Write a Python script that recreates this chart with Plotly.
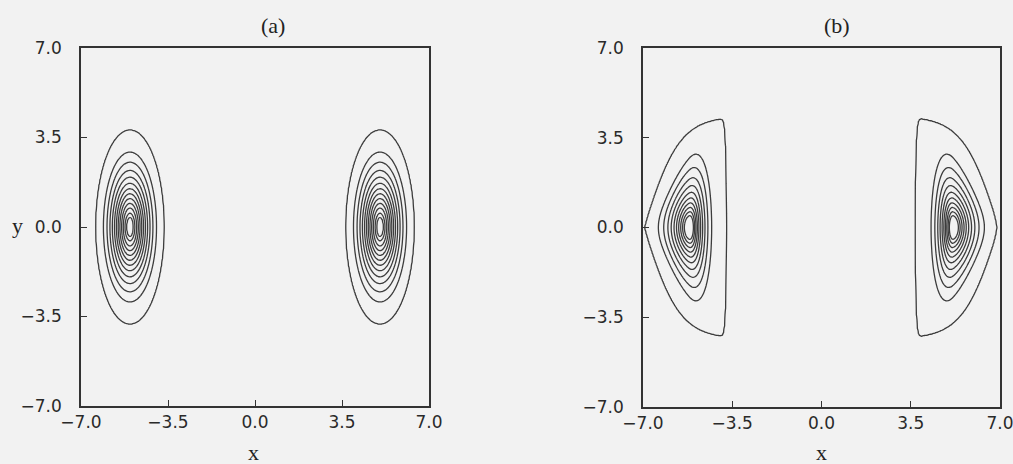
import numpy as np
import plotly.graph_objects as go

# ---------------- data ----------------
panel_titles = ["(a)", "(b)"]
tick_vals = [-7.0, -3.5, 0.0, 3.5, 7.0]
tick_text = ["\u22127.0", "\u22123.5", "0.0", "3.5", "7.0"]

# contour levels (relative height of the distribution)
contour_levels = [0.025, 0.112, 0.194, 0.287, 0.380, 0.475, 0.565,
                  0.650, 0.730, 0.805, 0.870, 0.930, 0.965]
a_level_count = 13   # contours drawn in panel (a)
b_level_count = 11   # contours drawn in panel (b)

# panel (a): two elliptic peaks
a_centers = [-5.03, 5.03]
a_sigma_x = [0.51, 0.51]
a_sigma_y = [1.40, 1.40]

# panel (b): two D-shaped peaks (u measured towards the origin)
b_centers = [-5.17, 5.16]
b_width_outer = [0.74, 0.74]
b_width_inner = [0.52, 0.52]
b_height_base = [1.64, 1.64]
b_height_slope = [0.65, 0.65]
b_profile_power = [1.55, 1.55]
# faint outer skirt of panel (b)
b_tail_amp = [0.05, 0.05]
b_tail_height = [3.7, 3.7]
b_tail_offset = [1.8, 1.8]
b_tail_rate = [1.4, 1.4]
b_tail_start = [-1.78, -1.72]
b_tail_end = [1.45, 1.49]

# ---------------- fields ----------------
xg = np.linspace(-7, 7, 351)
yg = np.linspace(-7, 7, 351)
X, Y = np.meshgrid(xg, yg)


def sig(t):
    return 1.0 / (1.0 + np.exp(-np.clip(t, -60, 60)))


za = np.zeros_like(X)
for c, sx, sy in zip(a_centers, a_sigma_x, a_sigma_y):
    za = np.maximum(za, np.exp(-(X - c) ** 2 / (2 * sx ** 2) - Y ** 2 / (2 * sy ** 2)))

zb_main = np.zeros_like(X)
zb_tail = np.zeros_like(X)
for i, c in enumerate(b_centers):
    d = -np.sign(c)
    u = d * (X - c)
    a = np.where(u < 0, b_width_outer[i], b_width_inner[i])
    s = np.maximum(b_height_base[i] + b_height_slope[i] * u, 0.05)
    r = np.sqrt((u / a) ** 2 + (Y / s) ** 2)
    zb_main = np.maximum(zb_main, np.exp(-r ** b_profile_power[i]))
    sp = np.maximum(b_tail_height[i] * np.tanh((u + b_tail_offset[i]) / b_tail_rate[i]), 0.02)
    g = sig((u - b_tail_start[i]) / 0.04) * sig(-(u - b_tail_end[i]) / 0.04)
    zb_tail = np.maximum(zb_tail, b_tail_amp[i] * g * np.exp(-Y ** 2 / (2 * sp ** 2)))

lev_x = [0.0] + contour_levels + [1.05]
lev_i = list(range(len(lev_x)))
wa = np.round(np.interp(za, lev_x, lev_i), 3)
wb_main = np.round(np.interp(zb_main, lev_x, lev_i), 3)
wb_tail = np.round(np.interp(zb_tail, lev_x, lev_i), 3)

line_col = "#3c3c3c"
bg = "#f2f2f2"

fig = go.Figure()
for w, xa, ya, st, en in [(wa, "x", "y", 1, a_level_count),
                          (wb_tail, "x2", "y2", 1, 1),
                          (wb_main, "x2", "y2", 2, b_level_count)]:
    fig.add_trace(go.Contour(
        x=xg, y=yg, z=w, xaxis=xa, yaxis=ya,
        contours=dict(coloring="lines", start=st, end=en + 0.001, size=1),
        colorscale=[[0, line_col], [1, line_col]],
        line=dict(width=1.3), showscale=False, hoverinfo="skip"))

W, H = 1013, 464
ax_common = dict(range=[-7, 7], tickvals=tick_vals, ticktext=tick_text,
                 ticks="inside", ticklen=6, tickwidth=1.2, tickcolor="#333",
                 showline=True, linecolor="#333", linewidth=1.5, mirror=True,
                 showgrid=False, zeroline=False, automargin=False,
                 ticklabeloverflow="allow",
                 tickfont=dict(family="DejaVu Sans", size=17, color="#2a2a2a"))

fig.update_layout(
    width=W, height=H, margin=dict(l=0, r=0, t=0, b=0, autoexpand=False),
    paper_bgcolor=bg, plot_bgcolor=bg, showlegend=False,
    xaxis=dict(domain=[81 / W, 429 / W], anchor="y", ticklabelstandoff=0, **ax_common),
    yaxis=dict(domain=[(H - 406) / H, (H - 48) / H], anchor="x", ticklabelstandoff=14, **ax_common),
    xaxis2=dict(domain=[643 / W, 1000 / W], anchor="y2", ticklabelstandoff=0, **ax_common),
    yaxis2=dict(domain=[(H - 407) / H, (H - 48) / H], anchor="x2", ticklabelstandoff=14, **ax_common),
)

serif = dict(family="Liberation Serif", size=22, color="#222")
annots = [
    dict(text=panel_titles[0], x=273 / W, y=(H - 26) / H),
    dict(text=panel_titles[1], x=837 / W, y=(H - 26) / H),
    dict(text="x", x=253 / W, y=(H - 452) / H),
    dict(text="x", x=821 / W, y=(H - 452) / H),
    dict(text="y", x=17 / W, y=(H - 226) / H),
]
for a in annots:
    fig.add_annotation(xref="paper", yref="paper", showarrow=False,
                       xanchor="center", yanchor="middle", font=serif, **a)

fig.write_html("out.html")
